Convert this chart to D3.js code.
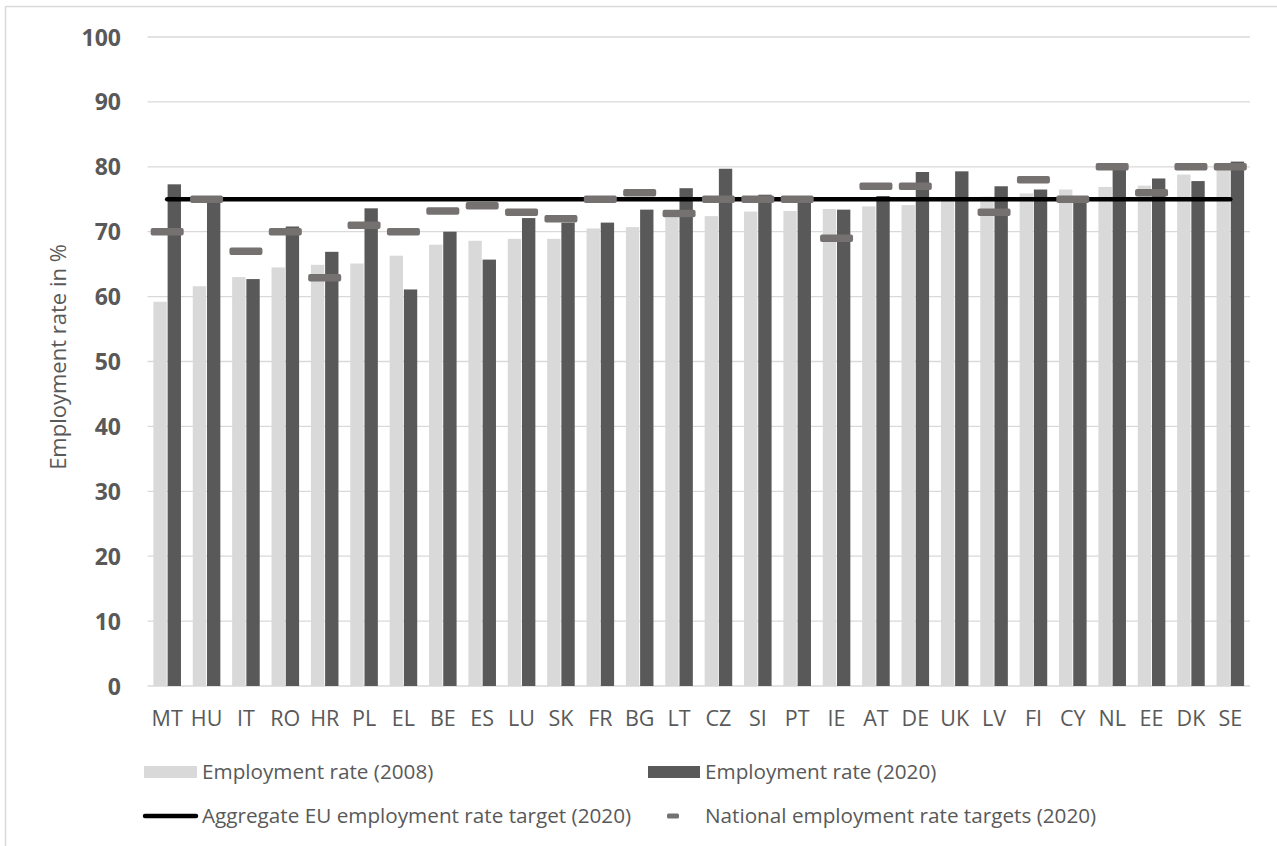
<!DOCTYPE html>
<html>
<head>
<meta charset="utf-8">
<script src="https://cdn.jsdelivr.net/npm/d3@7"></script>
<style>
  html, body { margin: 0; padding: 0; background: #fff; }
  svg { display: block; }
  text { font-family: "Open Sans", sans-serif; }
</style>
</head>
<body>
<svg id="chart" width="1277" height="846"></svg>
<script>
const categories = ["MT","HU","IT","RO","HR","PL","EL","BE","ES","LU","SK","FR","BG","LT","CZ","SI","PT","IE","AT","DE","UK","LV","FI","CY","NL","EE","DK","SE"];
const rate2008 = [59.2,61.6,63.0,64.5,64.9,65.1,66.3,68.0,68.6,68.9,68.9,70.5,70.7,72.2,72.4,73.1,73.2,73.5,73.9,74.1,75.2,75.4,75.9,76.5,76.9,77.1,78.8,79.6];
const rate2020 = [77.3,75.0,62.7,70.8,66.9,73.6,61.1,70.0,65.7,72.1,71.4,71.4,73.4,76.7,79.7,75.7,74.8,73.4,75.5,79.2,79.3,77.0,76.5,74.9,79.9,78.2,77.8,80.8];
const nationalTargets = [70,75,67,70,62.9,71,70,73.2,74,73,72,75,76,72.8,75,75,75,69,77,77,null,73,78,75,80,76,80,80];
const euTarget = 75;
const yTicks = [0,10,20,30,40,50,60,70,80,90,100];
const seriesKeys = ["2008","2020"];
const legendLabels = ["Employment rate (2008)","Employment rate (2020)","Aggregate EU employment rate target (2020)","National employment rate targets (2020)"];
const yTitle = "Employment rate in %";

(function () {
const svg = d3.select("#chart");
const pLeft = 147.5, pRight = 1250, pTop = 37, pBottom = 686;
const textColor = "#595959";

// frame
svg.append("line").attr("x1",5.5).attr("x2",1277).attr("y1",6.5).attr("y2",6.5).attr("stroke","#d9d9d9").attr("stroke-width",1.5);
svg.append("line").attr("x1",5.5).attr("x2",5.5).attr("y1",6.5).attr("y2",846).attr("stroke","#d9d9d9").attr("stroke-width",1.5);

const x0 = d3.scaleBand().domain(categories).range([pLeft, pRight]).paddingInner(0.3).paddingOuter(0.15);
const x1 = d3.scaleBand().domain(seriesKeys).range([0, x0.bandwidth()]).paddingInner(0.06).paddingOuter(0);
const y = d3.scaleLinear().domain([0,100]).range([pBottom, pTop]);

// gridlines
svg.append("g").selectAll("line").data(yTicks).join("line")
  .attr("x1", pLeft).attr("x2", pRight)
  .attr("y1", d => y(d)).attr("y2", d => y(d))
  .attr("stroke", "#d9d9d9").attr("stroke-width", 1.3);

// y axis labels
const yAxis = d3.axisLeft(y).tickValues(yTicks).tickSize(0).tickPadding(0);
const gy = svg.append("g").attr("transform", "translate(121,0)").call(yAxis);
gy.select(".domain").remove();
gy.selectAll("text").attr("font-family","'Open Sans', sans-serif").attr("font-size",23).attr("font-weight","bold").attr("fill",textColor).attr("dy","0.35em");

// x axis labels
const xAxis = d3.axisBottom(x0).tickSize(0).tickPadding(0);
const gx = svg.append("g").attr("transform", `translate(0,${pBottom})`).call(xAxis);
gx.select(".domain").remove();
gx.selectAll("text").attr("font-family","'Open Sans', sans-serif").attr("font-size",21.5).attr("fill",textColor).attr("y",32).attr("dy","0.35em");

// y title
svg.append("text").attr("transform","translate(58,357) rotate(-90)")
  .attr("text-anchor","middle").attr("dy","0.35em")
  .attr("font-size",22).attr("fill",textColor).text(yTitle);

// bars
const rows = categories.map((c,i) => ({c, v2008: rate2008[i], v2020: rate2020[i], t: nationalTargets[i]}));
const barColors = {"2008":"#d9d9d9","2020":"#595959"};
const gb = svg.append("g");
rows.forEach(r => {
  seriesKeys.forEach(k => {
    const v = k === "2008" ? r.v2008 : r.v2020;
    gb.append("rect")
      .attr("x", x0(r.c) + x1(k))
      .attr("width", x1.bandwidth())
      .attr("y", y(v))
      .attr("height", y(0) - y(v))
      .attr("fill", barColors[k]);
  });
});

// EU target line
const center = c => x0(c) + x0.bandwidth()/2;
svg.append("line")
  .attr("x1", center(categories[0])).attr("x2", center(categories[categories.length-1]))
  .attr("y1", y(euTarget)).attr("y2", y(euTarget))
  .attr("stroke","#000").attr("stroke-width",4.5).attr("stroke-linecap","round");

// national targets
const dashW = 33, dashH = 7.5;
svg.append("g").selectAll("rect").data(rows.filter(r => r.t !== null)).join("rect")
  .attr("x", d => center(d.c) - dashW/2)
  .attr("y", d => y(d.t) - dashH/2)
  .attr("width", dashW).attr("height", dashH)
  .attr("rx", 2).attr("fill","#767171");

// legend
const lg = svg.append("g").attr("font-size",20.7).attr("fill",textColor);
const row1 = 772, row2 = 816;
lg.append("rect").attr("x",144).attr("y",row1-6).attr("width",53).attr("height",12).attr("fill","#d9d9d9");
lg.append("text").attr("x",202).attr("y",row1).attr("dy","0.35em").text(legendLabels[0]);
lg.append("rect").attr("x",648).attr("y",row1-6).attr("width",52).attr("height",12).attr("fill","#595959");
lg.append("text").attr("x",705).attr("y",row1).attr("dy","0.35em").text(legendLabels[1]);
lg.append("line").attr("x1",145).attr("x2",196).attr("y1",row2).attr("y2",row2).attr("stroke","#000").attr("stroke-width",4.5).attr("stroke-linecap","round");
lg.append("text").attr("x",202).attr("y",row2).attr("dy","0.35em").text(legendLabels[2]);
lg.append("rect").attr("x",667).attr("y",row2-2.5).attr("width",12).attr("height",5).attr("rx",1.5).attr("fill","#767171");
lg.append("text").attr("x",705).attr("y",row2).attr("dy","0.35em").text(legendLabels[3]);
})();
</script>
</body>
</html>
